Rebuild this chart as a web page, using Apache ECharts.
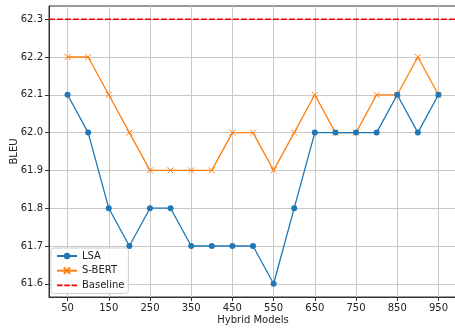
<!DOCTYPE html>
<html><head><meta charset="utf-8">
<script src="https://cdn.jsdelivr.net/npm/echarts@6/dist/echarts.min.js"></script>
<style>html,body{margin:0;padding:0;background:#fff}#c{width:455px;height:328px}</style>
</head><body><div id="c"></div>
<script>
const models = [50,100,150,200,250,300,350,400,450,500,550,600,650,700,750,800,850,900,950];
const lsa   = [62.1,62.0,61.8,61.7,61.8,61.8,61.7,61.7,61.7,61.7,61.6,61.8,62.0,62.0,62.0,62.0,62.1,62.0,62.1];
const sbert = [62.2,62.2,62.1,62.0,61.9,61.9,61.9,61.9,62.0,62.0,61.9,62.0,62.1,62.0,62.0,62.1,62.1,62.2,62.1];
const baseline = 62.3;
const xTicks = [50,150,250,350,450,550,650,750,850,950];
const yTicks = [61.6,61.7,61.8,61.9,62.0,62.1,62.2,62.3];
const xRange = [5, 995];
const yRange = [61.565, 62.335];

const font = 'DejaVu Sans';
const chart = echarts.init(document.getElementById('c'));
chart.setOption({
  animation:false,
  textStyle:{fontFamily:font},
  grid:{left:49, top:6, width:408, height:291, show:true, borderColor:'#333', borderWidth:1,
    containLabel:false, outerBoundsMode:'none'},
  xAxis:{type:'value', min:xRange[0], max:xRange[1], name:'Hybrid Models', nameLocation:'middle', nameGap:18,
    nameMoveOverlap:false,
    nameTextStyle:{fontFamily:font, fontSize:10, color:'#222'},
    axisLine:{show:true, onZero:false, lineStyle:{color:'#333', width:1}},
    axisTick:{show:true, inside:false, length:4, customValues:xTicks, lineStyle:{color:'#333'}},
    axisLabel:{customValues:xTicks, fontFamily:font, fontSize:10, color:'#222', margin:6},
    splitLine:{show:true, lineStyle:{color:'#c8c8c8', width:1}}},
  yAxis:{type:'value', min:yRange[0], max:yRange[1], name:'BLEU', nameLocation:'middle', nameGap:30,
    nameMoveOverlap:false,
    nameTextStyle:{fontFamily:font, fontSize:10, color:'#222'},
    axisLine:{show:true, onZero:false, lineStyle:{color:'#333', width:1}},
    axisTick:{show:true, length:4, customValues:yTicks, lineStyle:{color:'#333'}},
    axisLabel:{customValues:yTicks, fontFamily:font, fontSize:10, color:'#222', margin:6, formatter:v=>v.toFixed(1)},
    splitLine:{show:true, lineStyle:{color:'#c8c8c8', width:1}}},
  legend:{orient:'vertical', left:51, top:248, itemWidth:20, itemHeight:8, itemGap:4,
    padding:[3,4,3,5], backgroundColor:'rgba(255,255,255,0.85)', borderColor:'#d0d0d0', borderWidth:1, borderRadius:3,
    textStyle:{fontFamily:font, fontSize:10, color:'#222', lineHeight:10},
    data:['LSA','S-BERT',{name:'Baseline', icon:'path://M0,3.2h5.5v1.6H0zM7.25,3.2h5.5v1.6H7.25zM14.5,3.2h5.5v1.6H14.5z', itemStyle:{color:'#ff0000'}}]},
  series:[
    {name:'LSA', type:'line', data:models.map((m,i)=>[m,lsa[i]]), symbol:'circle', symbolSize:6,
      lineStyle:{color:'#1f77b4', width:1.3}, itemStyle:{color:'#1f77b4'}, z:3},
    {name:'S-BERT', type:'line', data:models.map((m,i)=>[m,sbert[i]]),
      symbol:'path://M0,0L10,10M10,0L0,10', symbolSize:6,
      lineStyle:{color:'#ff7f0e', width:1.3}, itemStyle:{color:'none', borderColor:'#ff7f0e', borderWidth:1}, z:2},
    {name:'Baseline', type:'line', data:xRange.map(x=>[x,baseline]), symbol:'none',
      lineStyle:{color:'#ff0000', type:[6,2], width:1.6}, itemStyle:{color:'#ff0000'}, z:4}
  ]
});
</script></body></html>
